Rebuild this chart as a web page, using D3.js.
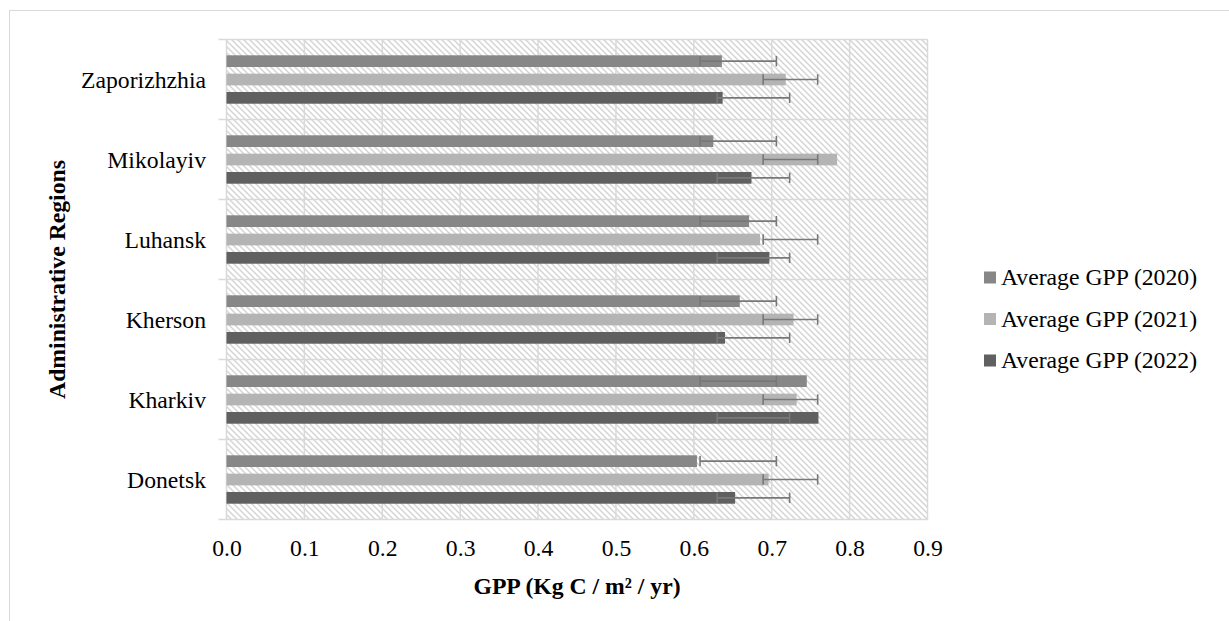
<!DOCTYPE html>
<html>
<head>
<meta charset="utf-8">
<script src="https://cdn.jsdelivr.net/npm/d3@7"></script>
<style>
  html, body { margin: 0; padding: 0; background: #fff; }
  svg { display: block; }
  svg text { font-family: 'Liberation Serif', 'Times New Roman', Times, 'DejaVu Serif', serif !important; }
</style>
</head>
<body>
<svg id="chart" width="1229" height="621"></svg>
<script>
// ---- data ----
const categories = ["Zaporizhzhia", "Mikolayiv", "Luhansk", "Kherson", "Kharkiv", "Donetsk"];
const seriesNames = ["Average GPP (2020)", "Average GPP (2021)", "Average GPP (2022)"];
const gpp2020 = [0.636, 0.625, 0.671, 0.659, 0.745, 0.604];
const gpp2021 = [0.718, 0.784, 0.685, 0.728, 0.732, 0.696];
const gpp2022 = [0.637, 0.674, 0.697, 0.640, 0.760, 0.653];
// error bar extents (low / high) per series
const errLow  = [0.608, 0.689, 0.630];
const errHigh = [0.706, 0.759, 0.723];
const xTicks = [0, 0.1, 0.2, 0.3, 0.4, 0.5, 0.6, 0.7, 0.8, 0.9];
const seriesColors = ["#878787", "#b4b4b4", "#606060"];

const seriesValues = [gpp2020, gpp2021, gpp2022];

// ---- layout ----
const svg = d3.select("#chart");
const plot = { left: 226.5, right: 927.5, top: 39.5, bottom: 519.5 };
const FONT = 23.7;

// outer chart border
svg.append("rect")
  .attr("x", 9.5).attr("y", 10.5)
  .attr("width", 1240).attr("height", 640)
  .attr("fill", "#fff").attr("stroke", "#d9d9d9").attr("stroke-width", 1);

// hatch pattern
const defs = svg.append("defs");
const pat = defs.append("pattern")
  .attr("id", "hatch").attr("patternUnits", "userSpaceOnUse")
  .attr("width", 6).attr("height", 6);
pat.append("rect").attr("width", 6).attr("height", 6).attr("fill", "#fff");
pat.append("path")
  .attr("d", "M-1,-1 L7,7 M-1,5 L1,7 M5,-1 L7,1")
  .attr("stroke", "#d3d3d3").attr("stroke-width", 1.4);

const x = d3.scaleLinear().domain([0, 0.9]).range([plot.left, plot.right]);
const y = d3.scaleBand().domain(categories).range([plot.top, plot.bottom]).padding(0);
const ySub = d3.scaleBand().domain(seriesNames)
  .range([15.8, y.bandwidth() - 15.8]).paddingInner(0.362).paddingOuter(0);

// plot background
svg.append("rect")
  .attr("x", plot.left).attr("y", plot.top)
  .attr("width", plot.right - plot.left).attr("height", plot.bottom - plot.top)
  .attr("fill", "url(#hatch)");

// vertical gridlines
svg.append("g").selectAll("line").data(xTicks).join("line")
  .attr("x1", d => x(d)).attr("x2", d => x(d))
  .attr("y1", plot.top).attr("y2", plot.bottom)
  .attr("stroke", "#d9d9d9").attr("stroke-width", 1.5);

// horizontal gridlines at category boundaries, with small outer ticks
const bounds = categories.map(c => y(c)).concat([plot.bottom]);
svg.append("g").selectAll("line").data(bounds).join("line")
  .attr("x1", plot.left - 8).attr("x2", plot.right)
  .attr("y1", d => d).attr("y2", d => d)
  .attr("stroke", "#d9d9d9").attr("stroke-width", 1.5);

// bars
const barsG = svg.append("g");
seriesNames.forEach((s, si) => {
  barsG.append("g").selectAll("rect").data(categories).join("rect")
    .attr("x", x(0))
    .attr("y", c => y(c) + ySub(s))
    .attr("width", (c, i) => x(seriesValues[si][i]) - x(0))
    .attr("height", ySub.bandwidth())
    .attr("fill", seriesColors[si]);
});

// error bars
const errG = svg.append("g").attr("stroke", "#787878").attr("stroke-width", 1.6).attr("fill", "none");
seriesNames.forEach((s, si) => {
  categories.forEach(c => {
    const cy = y(c) + ySub(s) + ySub.bandwidth() / 2;
    const x0 = x(errLow[si]), x1 = x(errHigh[si]);
    const h = 5.2;
    errG.append("line").attr("x1", x0).attr("x2", x1).attr("y1", cy).attr("y2", cy);
    errG.append("line").attr("x1", x0).attr("x2", x0).attr("y1", cy - h).attr("y2", cy + h);
    errG.append("line").attr("x1", x1).attr("x2", x1).attr("y1", cy - h).attr("y2", cy + h);
  });
});

// x axis tick labels
const xAxis = d3.axisBottom(x).tickValues(xTicks).tickFormat(d3.format(".1f")).tickSize(0).tickPadding(0);
const xg = svg.append("g").attr("transform", `translate(0,${plot.bottom})`).call(xAxis);
xg.attr("font-family", null);
xg.select(".domain").remove();
xg.selectAll("text")
  .attr("y", 0).attr("dy", null)
  .attr("transform", "translate(0,36)")
  .attr("font-size", FONT).attr("fill", "#000");

// y axis category labels
const yAxis = d3.axisLeft(y).tickSize(0).tickPadding(0);
const yg = svg.append("g").attr("transform", `translate(206,0)`).call(yAxis);
yg.attr("font-family", null);
yg.select(".domain").remove();
yg.selectAll("text")
  .attr("x", 0).attr("dy", "0.35em")
  .attr("font-size", FONT).attr("fill", "#000");

// axis titles
svg.append("text")
  .attr("x", (plot.left + plot.right) / 2).attr("y", 594)
  .attr("text-anchor", "middle").attr("font-weight", "bold")
  .attr("font-size", FONT).attr("fill", "#000")
  .text("GPP (Kg C / m² / yr)");

svg.append("text")
  .attr("transform", `translate(65,${(plot.top + plot.bottom) / 2}) rotate(-90)`)
  .attr("text-anchor", "middle").attr("font-weight", "bold")
  .attr("font-size", FONT).attr("fill", "#000")
  .text("Administrative Regions");

// legend
const legend = svg.append("g").attr("transform", "translate(984,277)");
seriesNames.forEach((s, i) => {
  const g = legend.append("g").attr("transform", `translate(0,${i * 41.5})`);
  g.append("rect").attr("x", 0).attr("y", -5.5).attr("width", 12).attr("height", 12)
    .attr("fill", seriesColors[i]);
  g.append("text").attr("x", 17).attr("y", 0).attr("dy", "0.35em")
    .attr("font-size", FONT).attr("fill", "#000").text(s);
});
</script>
</body>
</html>
